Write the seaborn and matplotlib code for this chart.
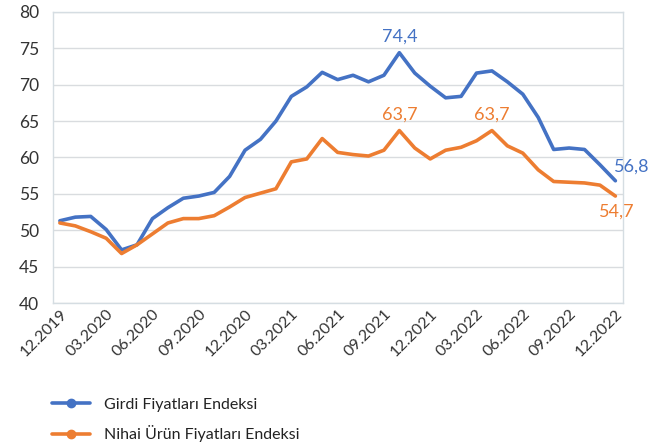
import pandas as pd
import seaborn as sns
from matplotlib import pyplot as plt
from matplotlib.lines import Line2D

# Monthly index values, 12.2019 - 12.2022
months = pd.period_range('2019-12', '2022-12', freq='M').strftime('%m.%Y').tolist()

girdi = [51.3, 51.8, 51.9, 50.1, 47.3, 48.0, 51.6, 53.1, 54.4, 54.7, 55.2, 57.4,
         61.0, 62.5, 65.0, 68.4, 69.7, 71.7, 70.7, 71.3, 70.4, 71.3, 74.4, 71.6,
         69.8, 68.2, 68.4, 71.6, 71.9, 70.4, 68.7, 65.5, 61.1, 61.3, 61.1, 59.0, 56.8]
nihai = [51.0, 50.6, 49.8, 48.9, 46.8, 48.0, 49.5, 51.0, 51.6, 51.6, 52.0, 53.2,
         54.5, 55.1, 55.7, 59.4, 59.8, 62.6, 60.7, 60.4, 60.2, 61.0, 63.7, 61.3,
         59.8, 61.0, 61.4, 62.3, 63.7, 61.6, 60.6, 58.3, 56.7, 56.6, 56.5, 56.2, 54.7]

series_names = ['Girdi Fiyatları Endeksi', 'Nihai Ürün Fiyatları Endeksi']
colors = ['#4472C4', '#ED7D31']

df = pd.DataFrame({'idx': range(len(months)), 'month': months,
                   series_names[0]: girdi, series_names[1]: nihai})
df_long = df.melt(id_vars=['idx', 'month'], var_name='series', value_name='value')

sns.set_style('white')
plt.rcParams['font.family'] = ['Lato', 'DejaVu Sans']

fig = plt.figure(figsize=(6.7, 4.43), dpi=100)
ax = fig.add_axes([0.079, 0.316, 0.851, 0.657])

sns.lineplot(data=df_long, x='idx', y='value', hue='series', hue_order=series_names,
             palette=colors, linewidth=2.6, legend=False, ax=ax)

ax.set_ylim(40, 80)
ax.set_xlim(-0.45, len(months) - 0.5)
ax.set_yticks(range(40, 81, 5))
ax.set_xticks(df['idx'][::3])
ax.set_xticklabels(df['month'][::3], rotation=45, ha='right', rotation_mode='anchor',
                   fontsize=11.5, color='#333333')
ax.tick_params(axis='y', labelsize=12.5, labelcolor='#333333', length=0, pad=10)
ax.tick_params(axis='x', length=0, pad=3)
ax.set_xlabel('')
ax.set_ylabel('')
ax.grid(axis='y', color='#d9dcdf', linewidth=1)
for s in ax.spines.values():
    s.set_color('#d5dde2')
    s.set_linewidth(1)

# value labels
lab_fs = 13
peak = df['idx'][22]
ax.text(peak, girdi[22] + 1.1, '74,4', color=colors[0], ha='center', va='bottom', fontsize=lab_fs)
ax.text(peak, nihai[22] + 1.1, '63,7', color=colors[1], ha='center', va='bottom', fontsize=lab_fs)
ax.text(df['idx'][28], nihai[28] + 1.1, '63,7', color=colors[1], ha='center', va='bottom', fontsize=lab_fs)
ax.text(df['idx'][36] - 0.1, girdi[36] + 0.9, '56,8', color=colors[0], ha='left', va='bottom', fontsize=lab_fs)
ax.text(df['idx'][36] + 0.1, nihai[36] - 1.0, '54,7', color=colors[1], ha='center', va='top', fontsize=lab_fs)

handles = [Line2D([], [], color=c, linewidth=2.6, marker='o', markersize=6) for c in colors]
fig.legend(handles, series_names, loc='upper left', bbox_to_anchor=(0.077, 0.103),
           frameon=False, fontsize=11.5, labelspacing=0.85, handlelength=2.4,
           handletextpad=0.9, borderpad=0, borderaxespad=0, labelcolor='#222222')

plt.savefig('out.png', dpi=100)
